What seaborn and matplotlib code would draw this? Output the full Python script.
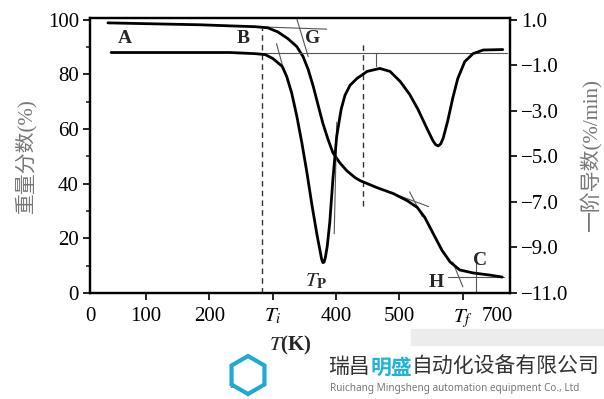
import numpy as np
import pandas as pd
import matplotlib
matplotlib.use("Agg")
import matplotlib.pyplot as plt
from matplotlib.patches import RegularPolygon, Rectangle
import seaborn as sns

# TG curve (weight %), temperature in K
tg_T = [40, 122, 185, 233, 272, 292, 308, 324, 338, 348, 356, 364, 372, 379, 387,
        395, 406, 417, 430, 438, 465, 490, 512, 528, 540, 553, 567, 580, 595, 616,
        643, 662]
tg_w = [98.9, 98.5, 98.2, 97.8, 97.5, 97.1, 95.6, 93.1, 90.2, 86.5, 81.8, 75.6,
        68.4, 62.2, 56.4, 51.3, 47.6, 44.7, 42.2, 41.1, 38.5, 36.4, 33.8, 31.3,
        27.6, 21.8, 15.6, 11.3, 8.4, 7.3, 6.5, 5.8]

# DTG curve (%/min)
dtg_T = [45, 154, 233, 272, 288, 300, 315, 322, 330, 338, 346, 354, 362, 370,
         375, 377, 379, 381, 383, 386, 390, 395, 401, 408, 414, 422, 433, 449,
         469, 485, 501, 516, 529, 543, 553, 557, 561, 565, 569, 576, 584, 592,
         603, 616, 632, 663]
dtg_v = [-0.43, -0.43, -0.43, -0.48, -0.52, -0.69, -1.04, -1.48, -2.22, -3.23,
         -4.41, -5.72, -7.16, -8.47, -9.2, -9.5, -9.67, -9.65, -9.45, -8.95, -7.9,
         -5.98, -4.10, -2.92, -2.31, -1.87, -1.57, -1.26, -1.13, -1.26, -1.70,
         -2.27, -2.92, -3.75, -4.32, -4.48, -4.54, -4.45, -4.19, -3.45, -2.44,
         -1.57, -0.83, -0.48, -0.32, -0.30]

xtick_pos = [12, 100, 200, 300, 400, 500, 600, 655]
xtick_lab = ['0', '100', '200', '$T_i$', '400', '500', '$T_f$', '700']
ytick_left = [0, 20, 40, 60, 80, 100]
ytick_right = [1.0, -1.0, -3.0, -5.0, -7.0, -9.0, -11.0]

sns.set_style("ticks")
plt.rcParams['font.family'] = ['Liberation Serif', 'Noto Sans CJK SC', 'DejaVu Sans']
plt.rcParams['mathtext.fontset'] = 'stix'

tg = pd.DataFrame({'T': tg_T, 'w': tg_w})
dtg = pd.DataFrame({'T': dtg_T, 'v': dtg_v})

fig = plt.figure(figsize=(6.04, 3.99), dpi=100)
ax = fig.add_axes([0.149, 0.266, 0.695, 0.689])
ax2 = ax.twinx()

sns.lineplot(data=tg, x='T', y='w', ax=ax, color='black', lw=2, zorder=3,
             solid_joinstyle='round')
sns.lineplot(data=dtg, x='T', y='v', ax=ax2, color='black', lw=2, zorder=3,
             solid_joinstyle='round')

ax.set_xlim(11.7, 674)
ax.set_ylim(0, 100.7)
ax2.set_ylim(-11, 1.09)

# construction lines
thin = dict(color='#555555', lw=0.8)
ax.plot([283, 283], [0, 97], ls=(0, (4, 3)), color='#333333', lw=1)
ax.plot([442, 442], [32, 91], ls=(0, (4, 3)), color='#333333', lw=1)
ax.plot([185, 385], [98.2, 96.6], **thin)
ax.plot([338, 356], [100.4, 86.5], **thin)
ax2.plot([240, 670], [-0.43, -0.43], **thin)
ax2.plot([306, 315], [-0.04, -0.96], **thin)
ax2.plot([401, 397], [-3.5, -8.4], **thin)
ax2.plot([463, 463], [-0.43, -1.04], **thin)
ax.plot([469, 546], [38.2, 31.6], **thin)
ax.plot([516, 536], [37.0, 28.0], **thin)
ax.plot([576, 665], [5.8, 5.8], **thin)
ax.plot([620, 620], [0, 10.9], **thin)
ax.plot([584, 600], [11.3, 2.2], **thin)

# point labels
lab = dict(fontsize=14, fontweight='bold', ha='center', va='center')
ax.text(66, 93.0, 'A', **lab)
ax.text(253, 93.0, 'B', **lab)
ax.text(363, 93.0, 'G', **lab)
ax.text(558, 3.8, 'H', **lab)
ax.text(627, 12.0, 'C', **lab)
ax.text(368, 4.0, r'$T_{\mathbf{P}}$', fontsize=15, ha='center', va='center')

ax.set_xticks(xtick_pos)
ax.set_xticklabels(xtick_lab, fontsize=15)
ax.set_yticks(ytick_left)
ax.set_yticklabels([str(v) for v in ytick_left], fontsize=15)
ax.set_yticks([10, 30, 50, 70, 90], minor=True)
ax2.set_yticks(ytick_right)
ax2.set_yticklabels([('\u2212' if v < 0 else '') + f'{abs(v):.1f}' for v in ytick_right],
                    fontsize=15)
for a in (ax, ax2):
    a.tick_params(direction='out', length=5, width=1.2, colors='black', pad=3)
    a.tick_params(which='minor', direction='out', length=3, width=1.2)
    for s in a.spines.values():
        s.set_visible(True)
        s.set_linewidth(1.6)
        s.set_color('black')
ax.tick_params(axis='x', pad=5)
ticks = ax.xaxis.get_major_ticks()
ticks[0].tick1line.set_visible(False)
ticks[-1].tick1line.set_visible(False)

ax.set_xlabel('')
ax.set_ylabel('重量分数(%)', fontsize=15, color='#777777', labelpad=8)
ax2.set_ylabel('一阶导数(%/min)', fontsize=15, color='#777777', labelpad=8)
fig.text(0.48, 0.135, r'$T$(K)', fontsize=15, fontweight='bold', ha='center', va='center')

# watermark strip
fig.patches.append(Rectangle((0.68, 0.135), 0.32, 0.04, transform=fig.transFigure,
                             color='#ececec', zorder=0))
fig.patches.append(RegularPolygon((2.48, 0.24), 6, radius=0.19, transform=fig.dpi_scale_trans,
                                  facecolor='white', edgecolor='#1fa9d6', lw=3, zorder=5))
fig.text(0.38, 0.03, '图2 彼', fontsize=7, color='#666666', ha='left', zorder=4)
cn = dict(fontsize=15, ha='left', va='center', family=['Noto Sans CJK SC'], zorder=6)
fig.text(0.543, 0.08, '瑞昌', color='#333333', **cn)
fig.text(0.613, 0.08, '明盛', color='#1fb3d8', fontweight='bold', **cn)
fig.text(0.682, 0.08, '自动化设备有限公司', color='#333333', **cn)
fig.text(0.547, 0.027, 'Ruichang Mingsheng automation equipment Co., Ltd', fontsize=7.2,
         color='#777777', ha='left', va='center', family=['Noto Sans'], zorder=6)

fig.savefig('out.png', dpi=100)
